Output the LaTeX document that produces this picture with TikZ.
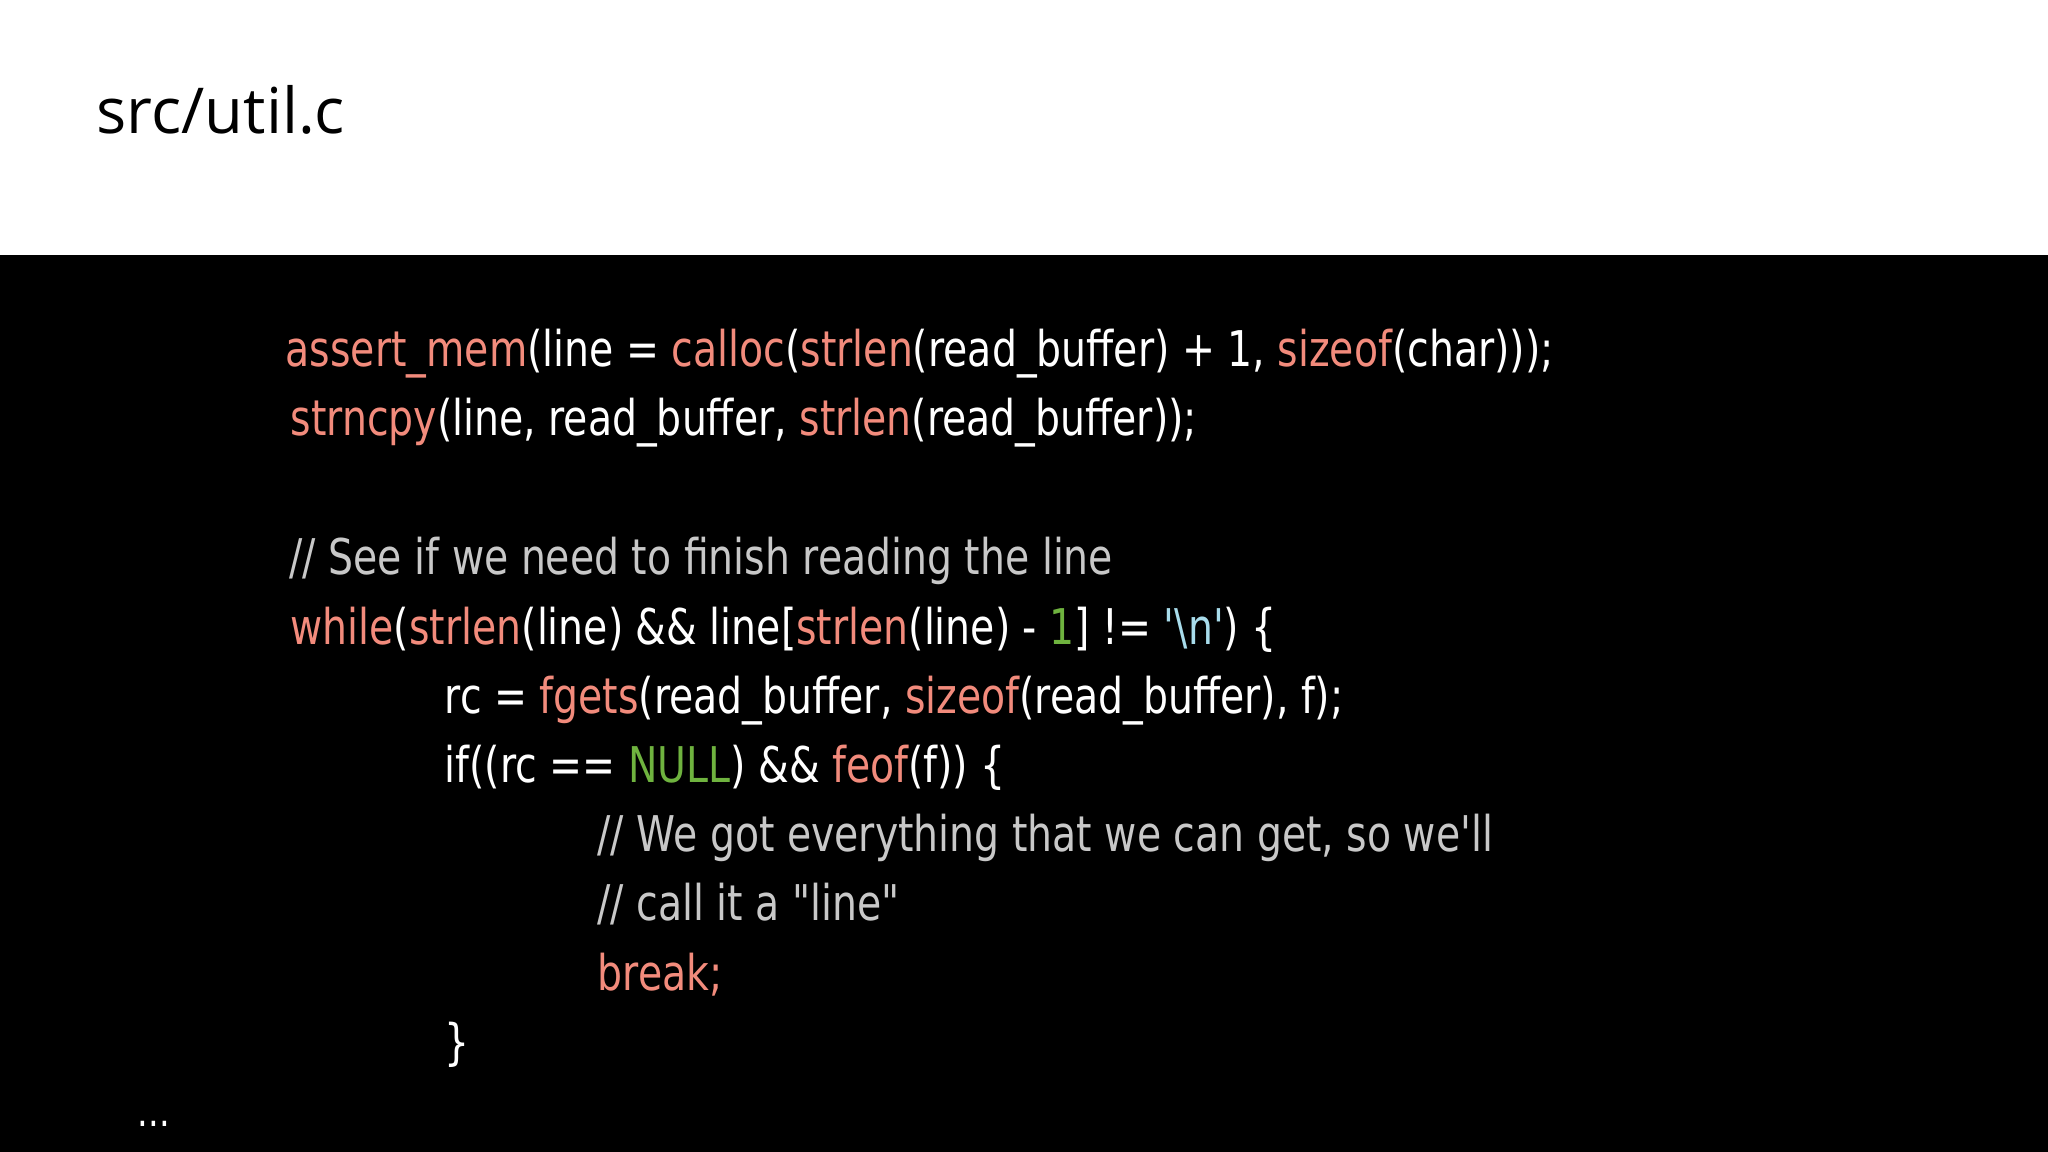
\documentclass[tikz,border=0pt]{standalone}
\usepackage{fontspec}
\setmainfont{DejaVu Sans}
\setmonofont{DejaVu Sans}[FakeStretch=0.80]
\newfontfamily\titlefont{Open Sans}
\definecolor{kw}{HTML}{F28B7C}
\definecolor{gr}{HTML}{6FB33F}
\definecolor{cy}{HTML}{A8DCEB}
\definecolor{cm}{HTML}{C8C8C8}
\newcommand\K[1]{\textcolor{kw}{#1}}
\newcommand\G[1]{\textcolor{gr}{#1}}
\newcommand\Cy[1]{\textcolor{cy}{#1}}
\newcommand\Cm[1]{\textcolor{cm}{#1}}
\newcommand\sq{\char"0027\relax}
\newcommand\dq{\char"0022\relax}
\tikzset{codeline/.style={anchor=base west,inner sep=0pt,text=white,font=\ttfamily\fontsize{14}{16}\selectfont}}
\begin{document}
\begin{tikzpicture}[x=0.01cm,y=-0.01cm]
\useasboundingbox (0,0) rectangle (2048,1152);
\fill[white] (0,0) rectangle (2048,255);
\fill[black] (0,255) rectangle (2048,1152);
\node[anchor=base west,inner sep=0pt,font=\titlefont\fontsize{18}{20}\selectfont] (title) at (96,134) {src/util.c};
\node[codeline] (l1) at (285,367) {\K{assert\_mem}(line = \K{calloc}(\K{strlen}(read\_buffer) + 1, \K{sizeof}(char)));};
\node[codeline] (l2) at (290,436) {\K{strncpy}(line, read\_buffer, \K{strlen}(read\_buffer));};
\node[codeline] (l3) at (289,574) {\Cm{// See if we need to finish reading the line}};
\node[codeline] (l4) at (290,644) {\K{while}(\K{strlen}(line) \&\& line[\K{strlen}(line) - \G{1}] != \Cy{\sq\textbackslash n\sq}) \{};
\node[codeline] (l5) at (444,713) {rc = \K{fgets}(read\_buffer, \K{sizeof}(read\_buffer), f);};
\node[codeline] (l6) at (444,782) {if((rc == \G{NULL}) \&\& \K{feof}(f)) \{};
\node[codeline] (l7) at (597,851) {\Cm{// We got everything that we can get, so we\sq ll}};
\node[codeline] (l8) at (597,920) {\Cm{// call it a \dq line\dq}};
\node[codeline] (l9) at (597,990) {\K{break;}};
\node[codeline] (l10) at (444,1059) {\}};
\node[codeline,font=\ttfamily\fontsize{12}{14}\selectfont] (l11) at (137,1126) {...};
\end{tikzpicture}
\end{document}
